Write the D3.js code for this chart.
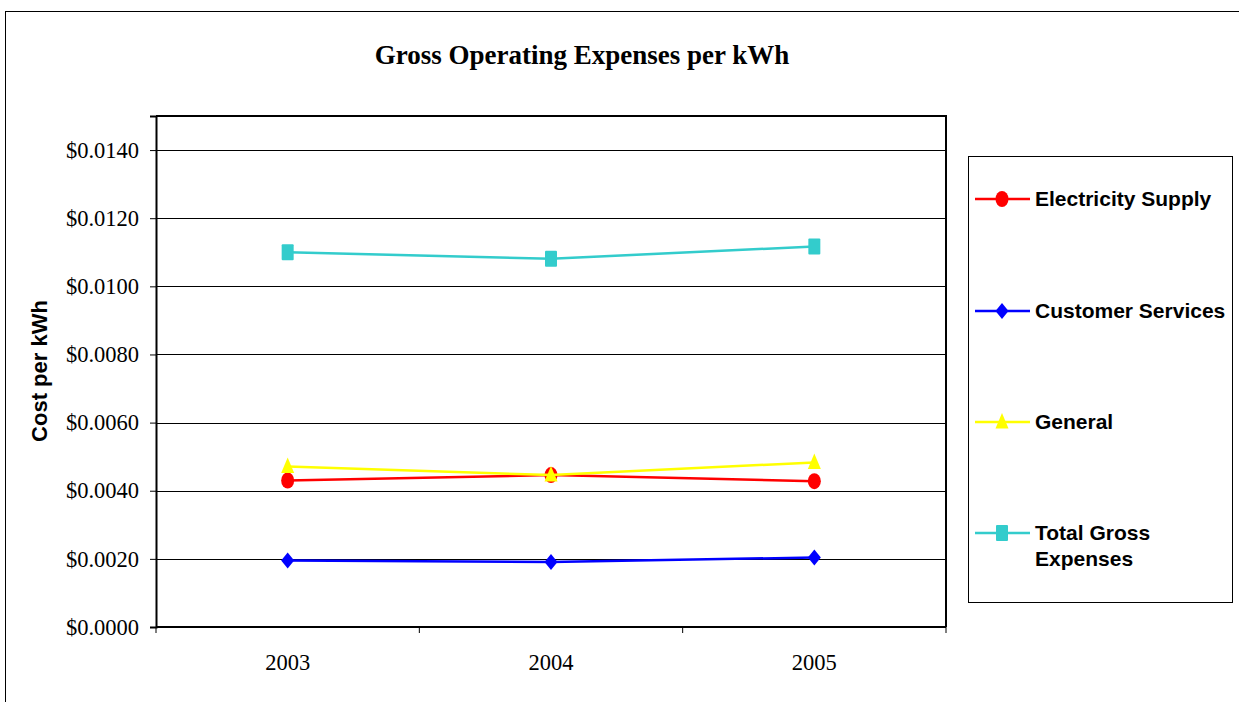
<!DOCTYPE html>
<html>
<head>
<meta charset="utf-8">
<script src="https://cdn.jsdelivr.net/npm/d3@7"></script>
<style>
  html, body { margin: 0; padding: 0; background: #fff; }
  svg { display: block; }
</style>
</head>
<body>
<svg id="chart" width="1239" height="702"></svg>
<script>
// Cost per kWh by year
const years = ["2003", "2004", "2005"];
const electricitySupply = [0.00430, 0.00446, 0.00428];
const customerServices = [0.00195, 0.00191, 0.00204];
const general = [0.00471, 0.00446, 0.00483];
const totalGross = [0.01100, 0.01081, 0.01117];
const yTicks = [0, 0.002, 0.004, 0.006, 0.008, 0.010, 0.012, 0.014];

const seriesNames = ["Electricity Supply", "Customer Services", "General", "Total Gross Expenses"];
const seriesColors = ["#ff0000", "#0000ff", "#ffff00", "#33cccc"];
const seriesMarkers = ["circle", "diamond", "triangle", "square"];
const seriesValues = [electricitySupply, customerServices, general, totalGross];

const series = seriesNames.map((name, i) => ({
  name, color: seriesColors[i], marker: seriesMarkers[i], values: seriesValues[i]
}));

const svg = d3.select("#chart");
const plot = { left: 156, right: 946, top: 116, bottom: 627 };
const serif = "'Liberation Serif', 'Times New Roman', serif";
const sans = "'Liberation Sans', Arial, sans-serif";

// Outer chart frame
svg.append("rect")
  .attr("x", 5.5).attr("y", 11.5)
  .attr("width", 1260).attr("height", 720)
  .attr("fill", "#fff").attr("stroke", "#000").attr("stroke-width", 1);

// Title
svg.append("text")
  .attr("x", 582).attr("y", 64)
  .attr("text-anchor", "middle")
  .attr("font-family", serif)
  .attr("font-weight", "bold").attr("font-size", 27)
  .text("Gross Operating Expenses per kWh");

const x = d3.scaleBand().domain(years).range([plot.left, plot.right]).padding(0);
const y = d3.scaleLinear().domain([0, 0.015]).range([plot.bottom, plot.top]);

// Horizontal gridlines
svg.append("g")
  .selectAll("line")
  .data(yTicks.filter(d => d > 0))
  .join("line")
  .attr("x1", plot.left).attr("x2", plot.right)
  .attr("y1", d => Math.round(y(d)) + 0.5).attr("y2", d => Math.round(y(d)) + 0.5)
  .attr("stroke", "#000").attr("stroke-width", 1);

// Plot area border (top and right)
svg.append("path")
  .attr("d", `M${plot.left},${plot.top} H${plot.right} V${plot.bottom}`)
  .attr("fill", "none").attr("stroke", "#000").attr("stroke-width", 2);

// Y axis
const yAxis = d3.axisLeft(y)
  .tickValues(yTicks)
  .tickFormat(d => "$" + d.toFixed(4))
  .tickSize(6).tickPadding(11);
const gy = svg.append("g").attr("transform", `translate(${plot.left},0)`).call(yAxis);
gy.select(".domain").attr("stroke-width", 2);
gy.selectAll(".tick line").attr("stroke-width", 1);
gy.selectAll(".tick text")
  .attr("font-family", serif)
  .attr("font-size", 22.5).attr("fill", "#000");

// X axis: ticks at category boundaries, labels at category centres
const gx = svg.append("g").attr("transform", `translate(0,${plot.bottom})`);
gx.append("line")
  .attr("x1", plot.left).attr("x2", plot.right)
  .attr("stroke", "#000").attr("stroke-width", 2);
const boundaries = years.map(d => x(d)).concat([x(years[years.length - 1]) + x.bandwidth()]);
gx.selectAll("line.tick")
  .data(boundaries)
  .join("line").attr("class", "tick")
  .attr("x1", d => d).attr("x2", d => d)
  .attr("y1", 0).attr("y2", 6)
  .attr("stroke", "#000").attr("stroke-width", 1);
gx.selectAll("text")
  .data(years)
  .join("text")
  .attr("x", d => x(d) + x.bandwidth() / 2)
  .attr("y", 43)
  .attr("text-anchor", "middle")
  .attr("font-family", serif)
  .attr("font-size", 22.5)
  .text(d => d);

// Y axis title
svg.append("text")
  .attr("transform", "translate(47,371) rotate(-90)")
  .attr("text-anchor", "middle")
  .attr("font-family", sans)
  .attr("font-weight", "bold").attr("font-size", 22)
  .text("Cost per kWh");

// Marker shapes
function drawMarker(g, type, color) {
  if (type === "circle") {
    g.append("ellipse").attr("rx", 6.5).attr("ry", 8).attr("fill", color);
  } else if (type === "diamond") {
    g.append("path").attr("d", "M0,-8 L6.5,0 L0,8 L-6.5,0 Z").attr("fill", color);
  } else if (type === "triangle") {
    g.append("path").attr("d", "M0,-9 L6.5,6.5 L-6.5,6.5 Z").attr("fill", color);
  } else if (type === "square") {
    g.append("rect").attr("x", -6).attr("y", -8).attr("width", 12).attr("height", 16)
      .attr("rx", 1).attr("fill", color);
  }
}

const line = d3.line()
  .x((d, i) => x(years[i]) + x.bandwidth() / 2)
  .y(d => y(d));

// Draw in order so later series sit on top
const drawOrder = [3, 1, 0, 2];
drawOrder.forEach(si => {
  const s = series[si];
  const g = svg.append("g");
  g.append("path")
    .datum(s.values)
    .attr("d", line)
    .attr("fill", "none").attr("stroke", s.color).attr("stroke-width", 2.5);
  s.values.forEach((v, i) => {
    const m = g.append("g")
      .attr("transform", `translate(${x(years[i]) + x.bandwidth() / 2},${y(v)})`);
    drawMarker(m, s.marker, s.color);
  });
});

// Legend
svg.append("rect")
  .attr("x", 968.5).attr("y", 156.5)
  .attr("width", 264).attr("height", 446)
  .attr("fill", "#fff").attr("stroke", "#000").attr("stroke-width", 1);

const legendY = [199, 311, 422, 533];
series.forEach((s, i) => {
  const g = svg.append("g").attr("transform", `translate(0,${legendY[i]})`);
  g.append("line")
    .attr("x1", 975).attr("x2", 1030)
    .attr("stroke", s.color).attr("stroke-width", 2.5);
  const m = g.append("g").attr("transform", "translate(1002,0)");
  drawMarker(m, s.marker, s.color);
  const t = g.append("text")
    .attr("x", 1035).attr("y", 7)
    .attr("font-family", sans)
    .attr("font-weight", "bold").attr("font-size", 21);
  if (s.name === "Total Gross Expenses") {
    t.append("tspan").attr("x", 1035).attr("dy", 0).text("Total Gross");
    t.append("tspan").attr("x", 1035).attr("dy", 26).text("Expenses");
  } else {
    t.text(s.name);
  }
});
</script>
</body>
</html>
